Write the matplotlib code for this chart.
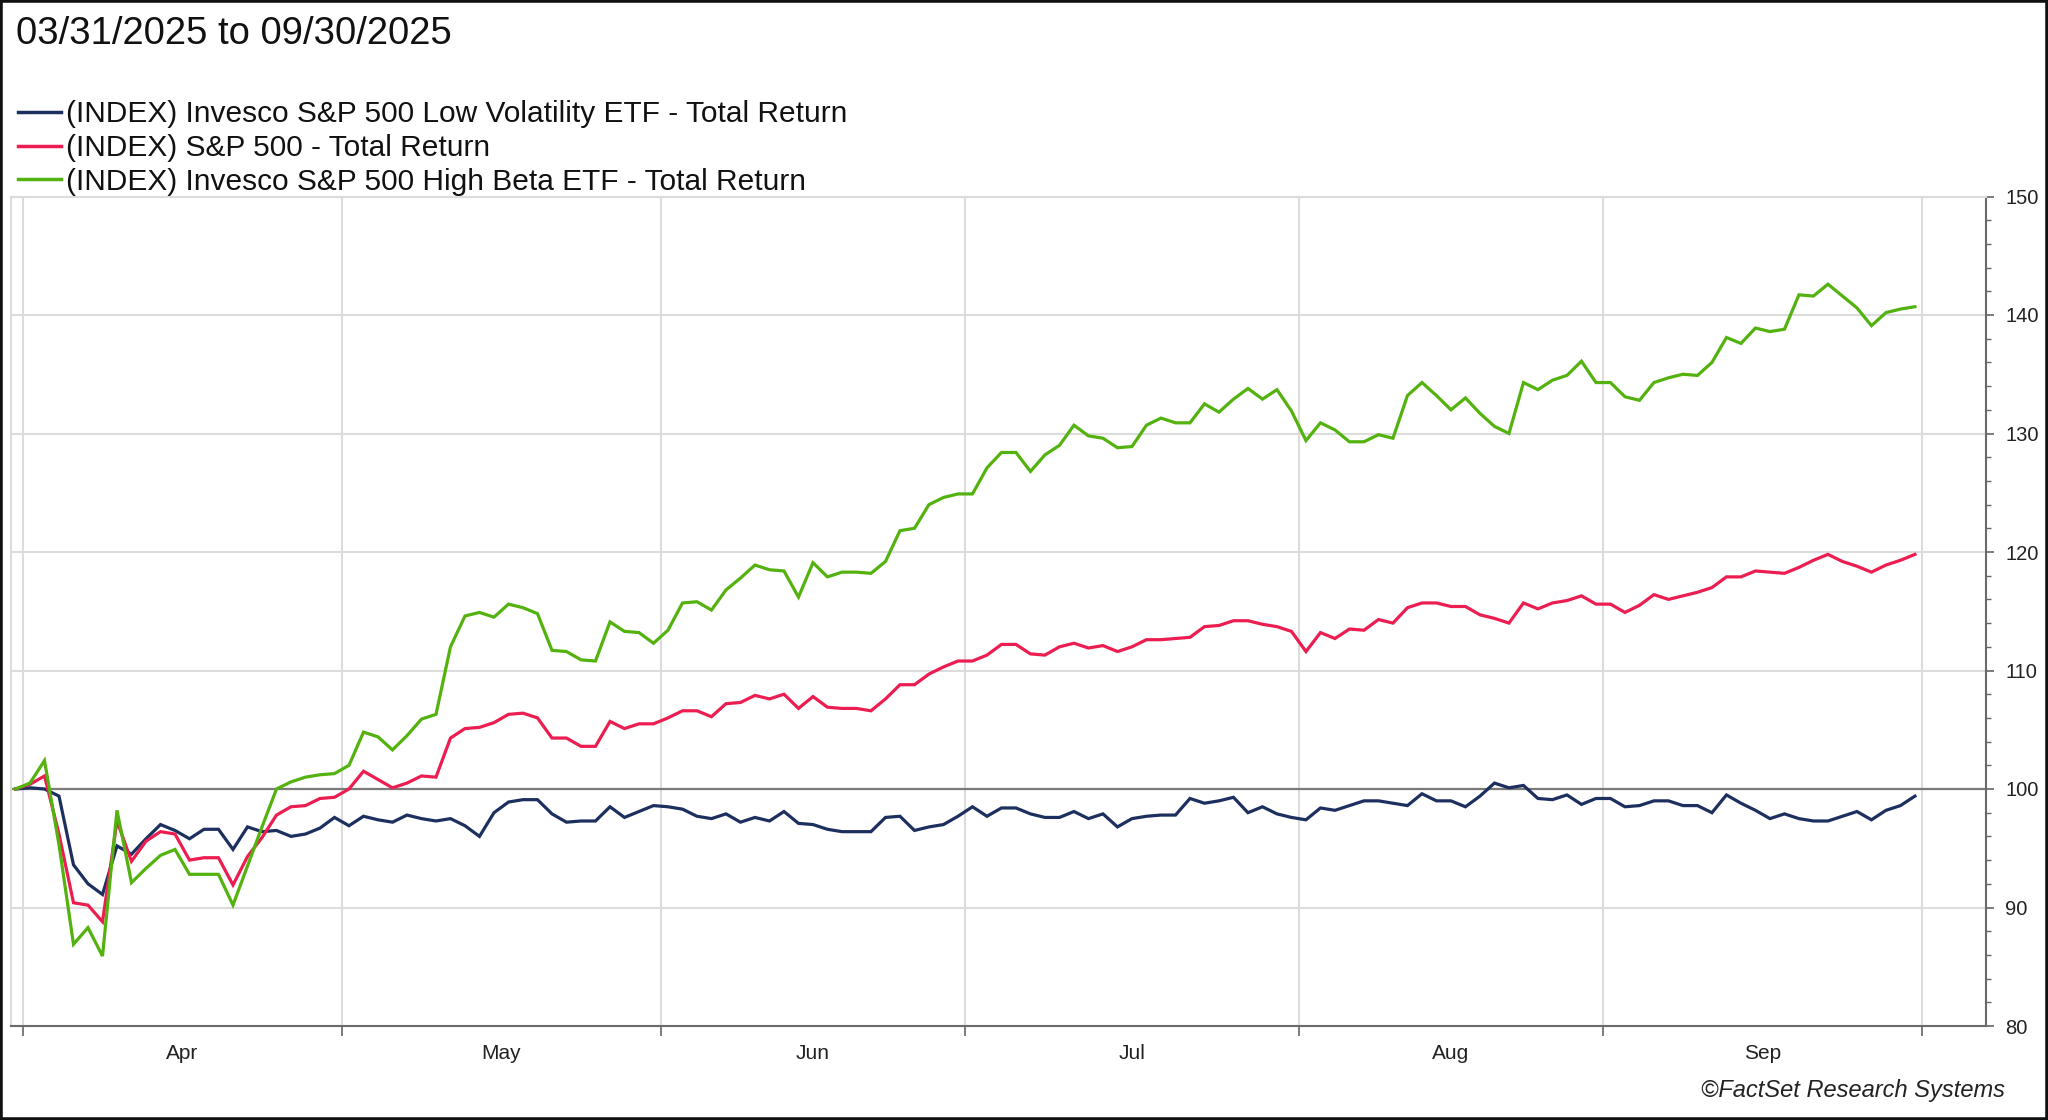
import numpy as np
import pandas as pd
import matplotlib
matplotlib.use("Agg")
import matplotlib.pyplot as plt
from matplotlib.lines import Line2D
from matplotlib.patches import Rectangle

plt.rcParams['font.family'] = ['Liberation Sans', 'DejaVu Sans']

# weekdays 03/31/2025 .. 09/30/2025 (holidays carry the prior value)
dates = pd.bdate_range('2025-03-31', '2025-09-30')

low_vol = [100.0, 100.1, 100.0, 99.4, 93.6, 92.0, 91.1, 95.2, 94.5, 95.8,
           97.0, 96.5, 95.8, 96.6, 96.6, 94.9, 96.8, 96.4, 96.5, 96.0,
           96.2, 96.7, 97.6, 96.9, 97.7, 97.4, 97.2, 97.8, 97.5, 97.3,
           97.5, 96.9, 96.0, 98.0, 98.9, 99.1, 99.1, 97.9, 97.2, 97.3,
           97.3, 98.5, 97.6, 98.1, 98.6, 98.5, 98.3, 97.7, 97.5, 97.9,
           97.2, 97.6, 97.3, 98.1, 97.1, 97.0, 96.6, 96.4, 96.4, 96.4,
           97.6, 97.7, 96.5, 96.8, 97.0, 97.7, 98.5, 97.7, 98.4, 98.4,
           97.9, 97.6, 97.6, 98.1, 97.5, 97.9, 96.8, 97.5, 97.7, 97.8,
           97.8, 99.2, 98.8, 99.0, 99.3, 98.0, 98.5, 97.9, 97.6, 97.4,
           98.4, 98.2, 98.6, 99.0, 99.0, 98.8, 98.6, 99.6, 99.0, 99.0,
           98.5, 99.4, 100.5, 100.1, 100.3, 99.2, 99.1, 99.5, 98.7, 99.2,
           99.2, 98.5, 98.6, 99.0, 99.0, 98.6, 98.6, 98.0, 99.5, 98.8,
           98.2, 97.5, 97.9, 97.5, 97.3, 97.3, 97.7, 98.1, 97.4, 98.2,
           98.6, 99.4]

sp500 = [100.0, 100.4, 101.1, 96.2, 90.4, 90.2, 88.8, 97.3, 93.9, 95.6,
         96.4, 96.2, 94.0, 94.2, 94.2, 91.9, 94.3, 95.9, 97.8, 98.5,
         98.6, 99.2, 99.3, 100.0, 101.5, 100.8, 100.1, 100.5, 101.1, 101.0,
         104.3, 105.1, 105.2, 105.6, 106.3, 106.4, 106.0, 104.3, 104.3, 103.6,
         103.6, 105.7, 105.1, 105.5, 105.5, 106.0, 106.6, 106.6, 106.1, 107.2,
         107.3, 107.9, 107.6, 108.0, 106.8, 107.8, 106.9, 106.8, 106.8, 106.6,
         107.6, 108.8, 108.8, 109.7, 110.3, 110.8, 110.8, 111.3, 112.2, 112.2,
         111.4, 111.3, 112.0, 112.3, 111.9, 112.1, 111.6, 112.0, 112.6, 112.6,
         112.7, 112.8, 113.7, 113.8, 114.2, 114.2, 113.9, 113.7, 113.3, 111.6,
         113.2, 112.7, 113.5, 113.4, 114.3, 114.0, 115.3, 115.7, 115.7, 115.4,
         115.4, 114.7, 114.4, 114.0, 115.7, 115.2, 115.7, 115.9, 116.3, 115.6,
         115.6, 114.9, 115.5, 116.4, 116.0, 116.3, 116.6, 117.0, 117.9, 117.9,
         118.4, 118.3, 118.2, 118.7, 119.3, 119.8, 119.2, 118.8, 118.3, 118.9,
         119.3, 119.8]

high_beta = [100.0, 100.5, 102.4, 95.3, 86.9, 88.3, 85.9, 98.2, 92.1, 93.3,
             94.4, 94.9, 92.8, 92.8, 92.8, 90.2, 93.5, 96.8, 100.0, 100.6,
             101.0, 101.2, 101.3, 102.0, 104.8, 104.4, 103.3, 104.5, 105.9, 106.3,
             112.0, 114.6, 114.9, 114.5, 115.6, 115.3, 114.8, 111.7, 111.6, 110.9,
             110.8, 114.1, 113.3, 113.2, 112.3, 113.4, 115.7, 115.8, 115.1, 116.8,
             117.8, 118.9, 118.5, 118.4, 116.2, 119.1, 117.9, 118.3, 118.3, 118.2,
             119.2, 121.8, 122.0, 124.0, 124.6, 124.9, 124.9, 127.1, 128.4, 128.4,
             126.8, 128.2, 129.0, 130.7, 129.8, 129.6, 128.8, 128.9, 130.7, 131.3,
             130.9, 130.9, 132.5, 131.8, 132.9, 133.8, 132.9, 133.7, 131.9, 129.4,
             130.9, 130.3, 129.3, 129.3, 129.9, 129.6, 133.2, 134.3, 133.2, 132.0,
             133.0, 131.7, 130.6, 130.0, 134.3, 133.7, 134.5, 134.9, 136.1, 134.3,
             134.3, 133.1, 132.8, 134.3, 134.7, 135.0, 134.9, 136.0, 138.1, 137.6,
             138.9, 138.6, 138.8, 141.7, 141.6, 142.6, 141.6, 140.6, 139.1, 140.2,
             140.5, 140.7]

labels = ['(INDEX) Invesco S&P 500 Low Volatility ETF - Total Return',
          '(INDEX) S&P 500 - Total Return',
          '(INDEX) Invesco S&P 500 High Beta ETF - Total Return']
colors = ['#1c2f5f', '#ec1d50', '#54b20e']
series = [low_vol, sp500, high_beta]

x = np.arange(len(dates))

fig = plt.figure(figsize=(20.48, 11.2), dpi=100)
ax = fig.add_axes([11 / 2048, 1 - 1026 / 1120, 1975 / 2048, 829.5 / 1120])

for vals, c, lab in zip(series, colors, labels):
    ax.plot(x, vals, color=c, lw=2.3, label=lab, solid_joinstyle='miter', zorder=3)

ax.axhline(100, color='#7a7a7a', lw=1.6, zorder=2)

# month boundaries and month centres
months = dates.month
bounds = [i - 0.5 for i in range(1, len(dates)) if months[i] != months[i - 1]]
bounds.append(len(dates) - 0.5)
centers, names = [], []
for m in sorted(set(months)):
    idx = np.where(months == m)[0]
    if len(idx) > 1:
        centers.append(idx.mean())
        names.append(dates[idx[0]].strftime('%b'))

ax.set_xlim(-0.31, 135.9)
ax.set_ylim(80, 150)

ax.set_xticks(bounds)
ax.set_xticklabels([])
ax.set_xticks(centers, minor=True)
ax.set_xticklabels(names, minor=True)
ax.tick_params(axis='x', which='major', direction='out', length=7, width=1.2, color='#666666')
ax.tick_params(axis='x', which='minor', length=0, labelsize=15, pad=13, labelcolor='#222222')

ax.yaxis.tick_right()
ax.set_yticks(np.arange(80, 151, 10))
ax.set_yticks(np.arange(80, 151, 2), minor=True)
ax.tick_params(axis='y', which='major', direction='out', length=6, width=1.2, color='#666666',
               labelsize=14.5, pad=8, labelcolor='#222222')
ax.tick_params(axis='y', which='minor', direction='out', length=3.5, width=1.0, color='#666666')

ax.grid(True, which='major', color='#dcdcdc', lw=1.5, zorder=0)

for side in ['left', 'top']:
    ax.spines[side].set_color('#dcdcdc')
    ax.spines[side].set_linewidth(1.5)
for side in ['right', 'bottom']:
    ax.spines[side].set_color('#6a6a6a')
    ax.spines[side].set_linewidth(1.5)

fig.text(16 / 2048, 1 - 34 / 1120, '03/31/2025 to 09/30/2025', fontsize=27.5,
         va='center', ha='left', color='#111111')

handles = [Line2D([], [], color=c, lw=2.5) for c in colors]
fig.legend(handles, labels, loc='upper left', bbox_to_anchor=(18 / 2048, 1 - 100 / 1120),
           frameon=False, fontsize=21.5, handlelength=1.45, handletextpad=0.15,
           labelspacing=0.2, borderpad=0, borderaxespad=0, labelcolor='#111111')

fig.text(2005 / 2048, 1 - 1090 / 1120, '\u00a9FactSet Research Systems', fontsize=17,
         style='italic', ha='right', va='center', color='#222222')

fig.add_artist(Rectangle((0, 0), 1, 1, transform=fig.transFigure, fill=False,
                         edgecolor='#111111', lw=4))

fig.savefig('out.png', dpi=100)
